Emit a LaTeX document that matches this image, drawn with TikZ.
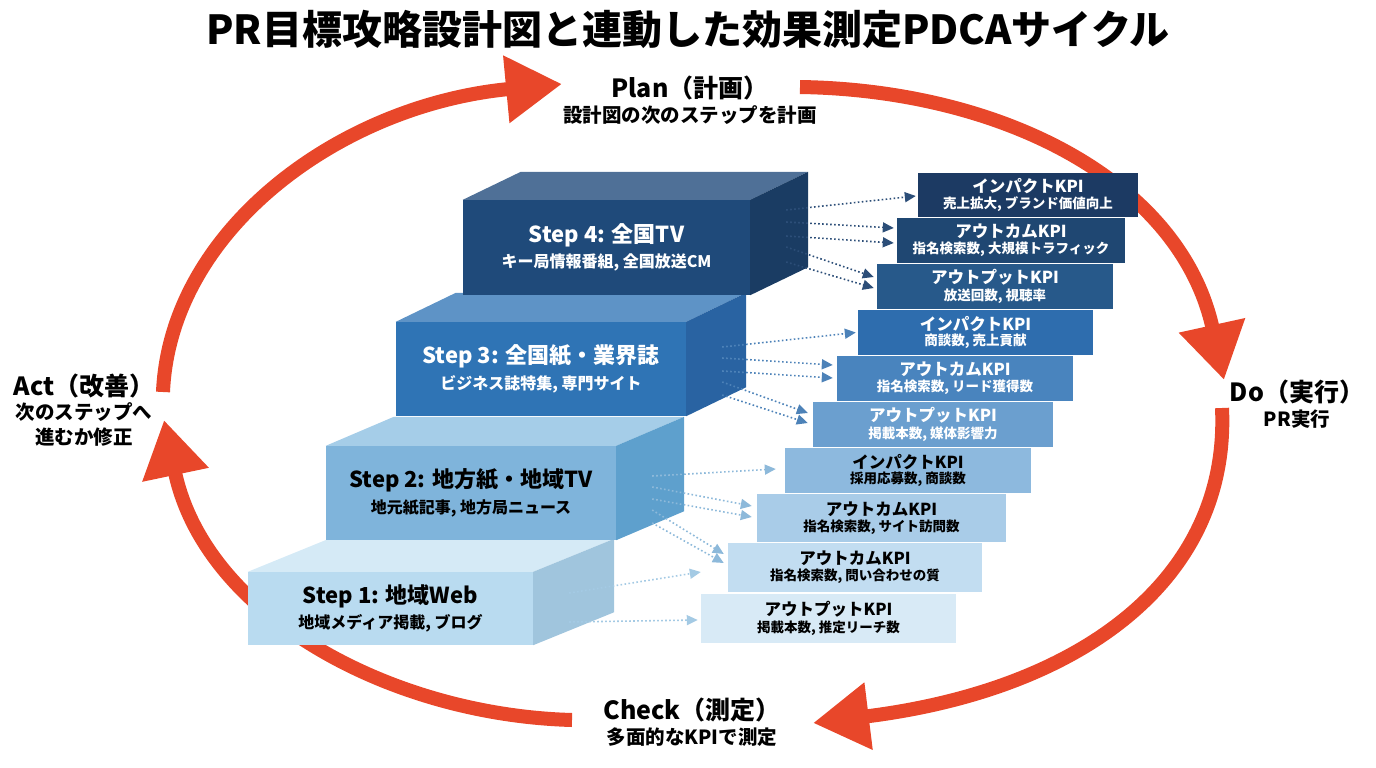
\documentclass[tikz,border=0pt]{standalone}
\usepackage{fontspec}
\setmainfont{Noto Sans CJK JP}
\usepackage{tikz}
\usetikzlibrary{arrows.meta}
\usepackage{xcolor}
\definecolor{cyclered}{HTML}{E8472A}
\definecolor{s4front}{HTML}{1F4A7A}\definecolor{s4top}{HTML}{4F7097}\definecolor{s4side}{HTML}{1A3C63}
\definecolor{s3front}{HTML}{2F74B5}\definecolor{s3top}{HTML}{5E93C6}\definecolor{s3side}{HTML}{2963A2}
\definecolor{s2front}{HTML}{7FB4DB}\definecolor{s2top}{HTML}{A5CDE8}\definecolor{s2side}{HTML}{5EA0CD}
\definecolor{s1front}{HTML}{B9DBF0}\definecolor{s1top}{HTML}{D5EAF6}\definecolor{s1side}{HTML}{A0C5DD}
\definecolor{link4}{HTML}{2C4E78}\definecolor{link3}{HTML}{4D82B8}
\definecolor{link2}{HTML}{8DB9DA}\definecolor{link1}{HTML}{A4CAE4}
\definecolor{k1}{HTML}{1C3A63}\definecolor{k2}{HTML}{1F4772}\definecolor{k3}{HTML}{27598A}
\definecolor{k4}{HTML}{2E6DAE}\definecolor{k5}{HTML}{4984BE}\definecolor{k6}{HTML}{6B9FCF}
\definecolor{k7}{HTML}{8DB9DE}\definecolor{k8}{HTML}{A9CCE8}\definecolor{k9}{HTML}{C2DDF1}
\definecolor{k10}{HTML}{D8EAF6}
\newcommand\phasetitle{\fontsize{25}{30}\selectfont\bfseries}
\newcommand\phasesub{\fontsize{19.5}{28}\selectfont\bfseries}
\tikzset{%
	cycle arrow/.style={
		draw=cyclered,
		line width=14pt,
		-{Triangle[length=56pt,width=64pt]}
	},
	step face/.style={
		inner sep=0pt,
		align=center
	},
	kpi box/.style={
		inner sep=0pt,
		align=center
	},
	kpi link/.style={
		dash pattern=on 1.6pt off 2.4pt,
		line width=1.6pt,
		-{Triangle[length=11pt,width=10pt]}
	},
	phase/.style={
		align=center,
		inner sep=0pt
	},
}
\begin{document}
\begin{tikzpicture}[x=1pt, y=-1pt]
	\useasboundingbox (0,0) rectangle (1376,768);
	
	\node [font=\fontsize{40}{46}\selectfont\bfseries] (title) at (688,29) {PR目標攻略設計図と連動した効果測定PDCAサイクル};
	
	% PDCA phases
	\node [phase] (plan) at (690,100) {{\phasetitle Plan（計画）}\\[5pt]{\phasesub 設計図の次のステップを計画}};
	\node [phase] (do) at (1297,404) {{\phasetitle Do（実行）}\\[5pt]{\phasesub PR実行}};
	\node [phase] (check) at (692,722) {{\phasetitle Check（測定）}\\[5pt]{\phasesub 多面的なKPIで測定}};
	\node [phase] (act) at (84,410) {{\phasetitle Act（改善）}\\[4pt]{\phasesub 次のステップへ}\\[5pt]{\phasesub 進むか修正}};
	
	\coordinate (act-out) at (163,392);
	\coordinate (plan-in) at (562,84);
	\coordinate (plan-out) at (800,87);
	\coordinate (do-in) at (1224,380);
	\coordinate (do-out) at (1222,408);
	\coordinate (check-in) at (813,723);
	\coordinate (check-out) at (572,720);
	\coordinate (act-in) at (164,420);
	
	\draw [cycle arrow] (act-out) .. controls (170,230) and (340,105) .. (plan-in);
	\draw [cycle arrow] (plan-out) .. controls (1000,90) and (1180,180) .. (do-in);
	\draw [cycle arrow] (do-out) .. controls (1230,580) and (1080,690) .. (check-in);
	\draw [cycle arrow] (check-out) .. controls (390,715) and (205,615) .. (act-in);
	
	% steps (front face = node, top and side drawn on it)
	\foreach \n/\cx/\cy/\w/\h/\dx/\dy/\tc/\ttl/\sub in {
		1/390.5/608.5/285/73/81/-33/black/{Step 1: 地域Web}/{地域メディア掲載, ブログ},
		2/471/493/290/94/68/-29/black/{Step 2: 地方紙・地域TV}/{地元紙記事, 地方局ニュース},
		3/541/369/290/94/60/-29/white/{Step 3: 全国紙・業界誌}/{ビジネス誌特集, 専門サイト},
		4/606.5/247.5/287/95/58/-28/white/{Step 4: 全国TV}/{キー局情報番組, 全国放送CM}}
	{
		\node [step face, fill=s\n front, text=\tc, minimum width=\w pt, minimum height=\h pt] (step\n) at (\cx,\cy)
		{{\fontsize{22}{28}\selectfont\bfseries \ttl}\\[6pt]{\fontsize{16}{20}\selectfont\bfseries \sub}};
		\fill [s\n top] (step\n.north west) -- ++(\dx,\dy) -- ([shift={(\dx,\dy)}]step\n.north east) -- (step\n.north east) -- cycle;
		\fill [s\n side] (step\n.north east) -- ++(\dx,\dy) -- ([shift={(\dx,\dy)}]step\n.south east) -- (step\n.south east) -- cycle;
	}
	
	% KPI boxes
	\foreach \n/\cx/\cy/\w/\h/\tc/\ttl/\sub in {
		1/1028/195/220/44/white/インパクトKPI/{売上拡大, ブランド価値向上},
		2/1011/240.5/228/45/white/アウトカムKPI/{指名検索数, 大規模トラフィック},
		3/995/286.5/236/45/white/アウトプットKPI/{放送回数, 視聴率},
		4/975.5/332.5/235/45/white/インパクトKPI/{商談数, 売上貢献},
		5/955/378.5/236/45/white/アウトカムKPI/{指名検索数, リード獲得数},
		6/933/424.5/240/45/white/アウトプットKPI/{掲載本数, 媒体影響力},
		7/908/470.5/246/45/black/インパクトKPI/{採用応募数, 商談数},
		8/881.5/518/249/48/black/アウトカムKPI/{指名検索数, サイト訪問数},
		9/855/567.5/254/49/black/アウトカムKPI/{指名検索数, 問い合わせの質},
		10/828.5/618.5/255/49/black/アウトプットKPI/{掲載本数, 推定リーチ数}}
	\node [kpi box, fill=k\n, text=\tc, minimum width=\w pt, minimum height=\h pt] (kpi\n) at (\cx,\cy)
	{{\fontsize{16.5}{20}\selectfont\bfseries \ttl}\\[2pt]{\fontsize{13.5}{18}\selectfont\bfseries \sub}};
	
	% dotted links step -> KPI
	\foreach \s/\a/\k/\bx/\by in {
		4/-37.5/1/-2/1, 4/-25.5/2/-3/-12.5, 4/-11.5/2/-3/2.5, 4/-0.5/3/-3/-9.5, 4/14.5/3/-3/1.5,
		3/-22/4/-2/0, 3/-11/5/-4/-13.5, 3/2/5/-4/-0.5, 3/13/6/-5/-11.5, 3/26/6/-5/-1.5,
		2/-17/7/-9/-1.5, 2/-6/8/-5/-12, 2/6/8/-5/-1, 2/17/9/-4/-13.5, 2/30/9/-4/-4.5,
		1/-15.5/9/-27/4.5, 1/13.5/10/-3/1.5}
	\draw [kpi link, draw=link\s] ([shift={(36,\a)}]step\s.east) -- ([shift={(\bx,\by)}]kpi\k.west);
	
\end{tikzpicture}
\end{document}
